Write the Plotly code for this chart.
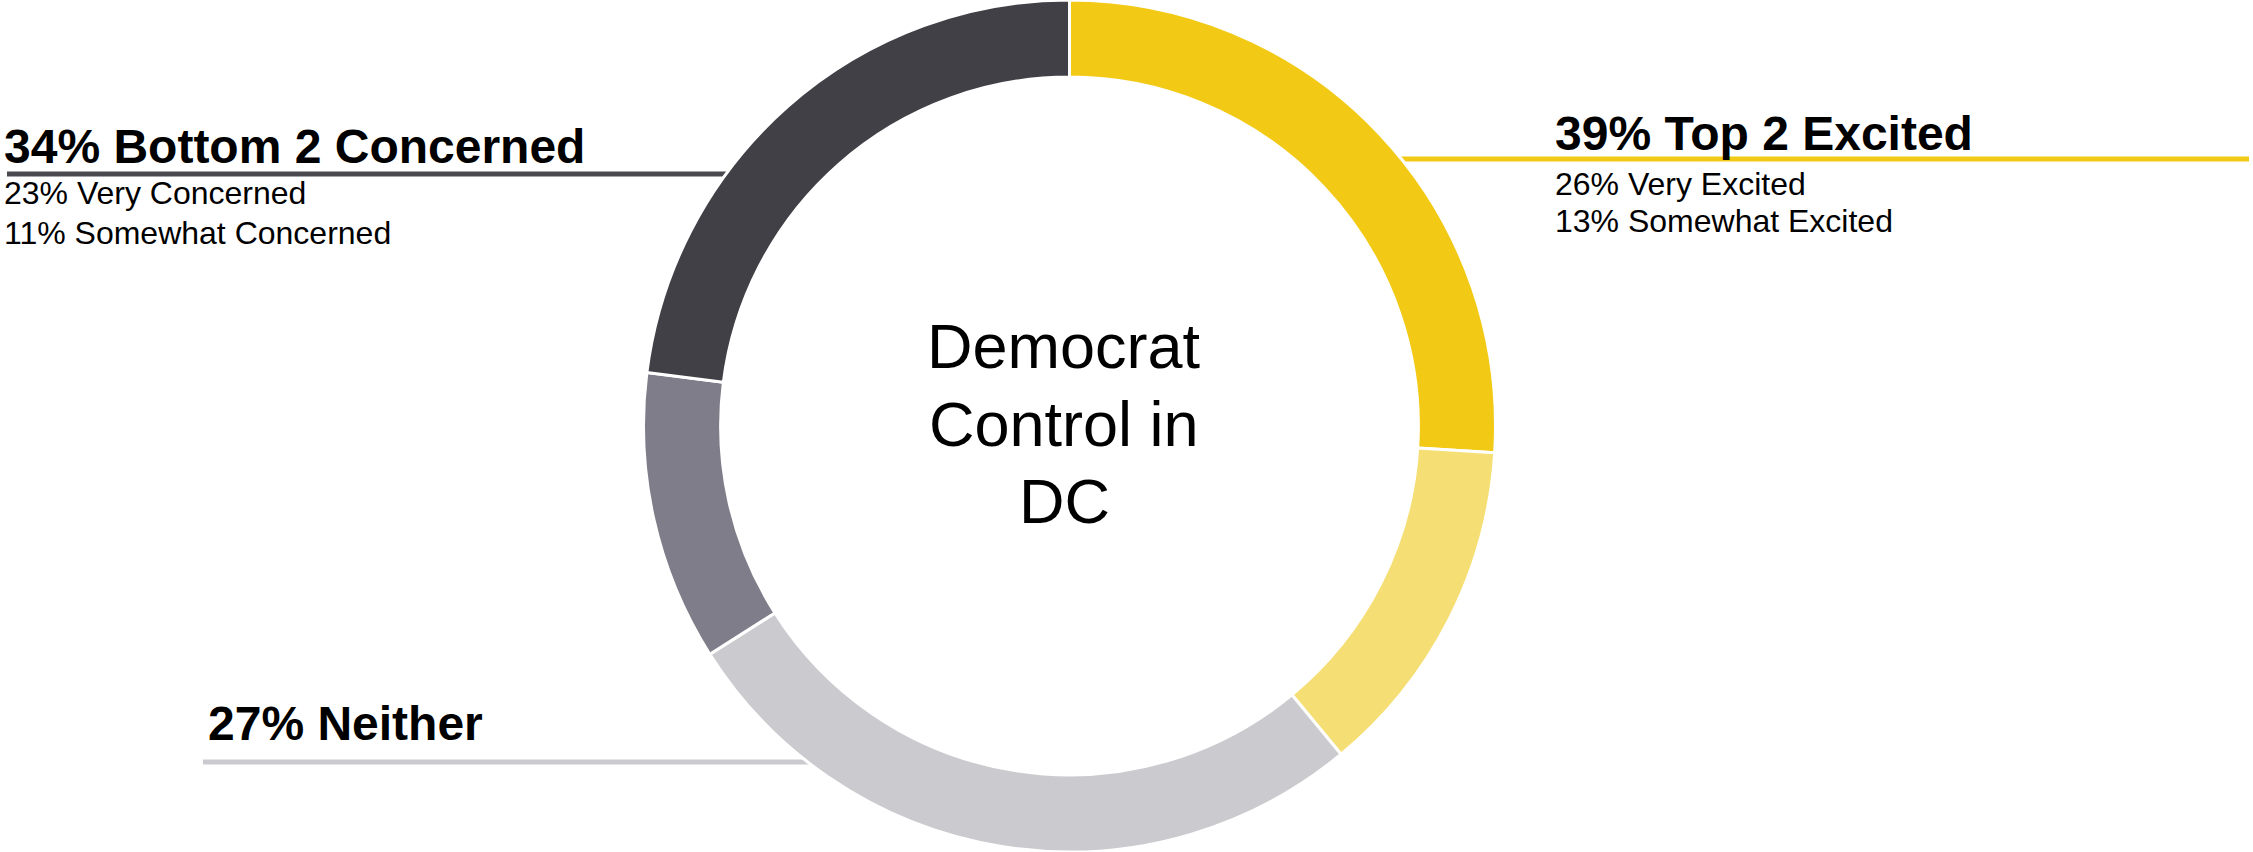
import plotly.graph_objects as go

W, H = 2253, 852

# Data
segments = ["Very Excited", "Somewhat Excited", "Neither", "Somewhat Concerned", "Very Concerned"]
values = [26, 13, 27, 11, 23]
colors = ["#F2CA16", "#F5DF75", "#CBCBCF", "#7E7D89", "#414046"]

center_title_lines = ["Democrat", "Control in", "DC"]
top_header = "39% Top 2 Excited"
top_sub = ["26% Very Excited", "13% Somewhat Excited"]
bottom_header = "34% Bottom 2 Concerned"
bottom_sub = ["23% Very Concerned", "11% Somewhat Concerned"]
neither_header = "27% Neither"

FONT = "Liberation Sans"

def px(x):
    return x / W

def py(y):
    return 1 - y / H

fig = go.Figure(go.Pie(
    labels=segments,
    values=values,
    sort=False,
    direction="clockwise",
    rotation=0,
    hole=0.819,
    marker=dict(colors=colors, line=dict(color="white", width=3)),
    textinfo="none",
    hoverinfo="label+percent",
    showlegend=False,
    domain=dict(x=[px(643), px(1496)], y=[0, 1]),
))

shapes = [
    dict(type="line", xref="paper", yref="paper", x0=px(7), x1=px(745), y0=py(174), y1=py(174),
         line=dict(color="#4A4950", width=5), layer="below"),
    dict(type="line", xref="paper", yref="paper", x0=px(1380), x1=px(2249), y0=py(159), y1=py(159),
         line=dict(color="#F2CA16", width=5), layer="below"),
    dict(type="line", xref="paper", yref="paper", x0=px(203), x1=px(830), y0=py(762), y1=py(762),
         line=dict(color="#CBCBCF", width=5), layer="below"),
]

ann = []
def add(text, x, y, size, bold=False, anchor="left"):
    ann.append(dict(
        text=f"<b>{text}</b>" if bold else text,
        xref="paper", yref="paper", x=px(x), y=py(y),
        xanchor=anchor, yanchor="middle", showarrow=False,
        font=dict(family=FONT, size=size, color="#000000"),
    ))

add(bottom_header, 2, 146, 48, bold=True)
add(bottom_sub[0], 2, 193, 32)
add(bottom_sub[1], 2, 233, 32)
add(top_header, 1553, 134, 48, bold=True)
add(top_sub[0], 1553, 184, 32)
add(top_sub[1], 1553, 221, 32)
add(neither_header, 206, 723, 48, bold=True)

for line_text, yc in zip(center_title_lines, [346, 424, 501]):
    add(line_text, 1064, yc, 63, anchor="center")

fig.update_layout(
    width=W, height=H,
    margin=dict(l=0, r=0, t=0, b=0),
    paper_bgcolor="white", plot_bgcolor="white",
    shapes=shapes, annotations=ann,
)

fig.write_html(
    "out.html",
    config={"displayModeBar": False},
    post_script="document.body.style.margin='0';document.body.style.overflow='hidden';",
)
